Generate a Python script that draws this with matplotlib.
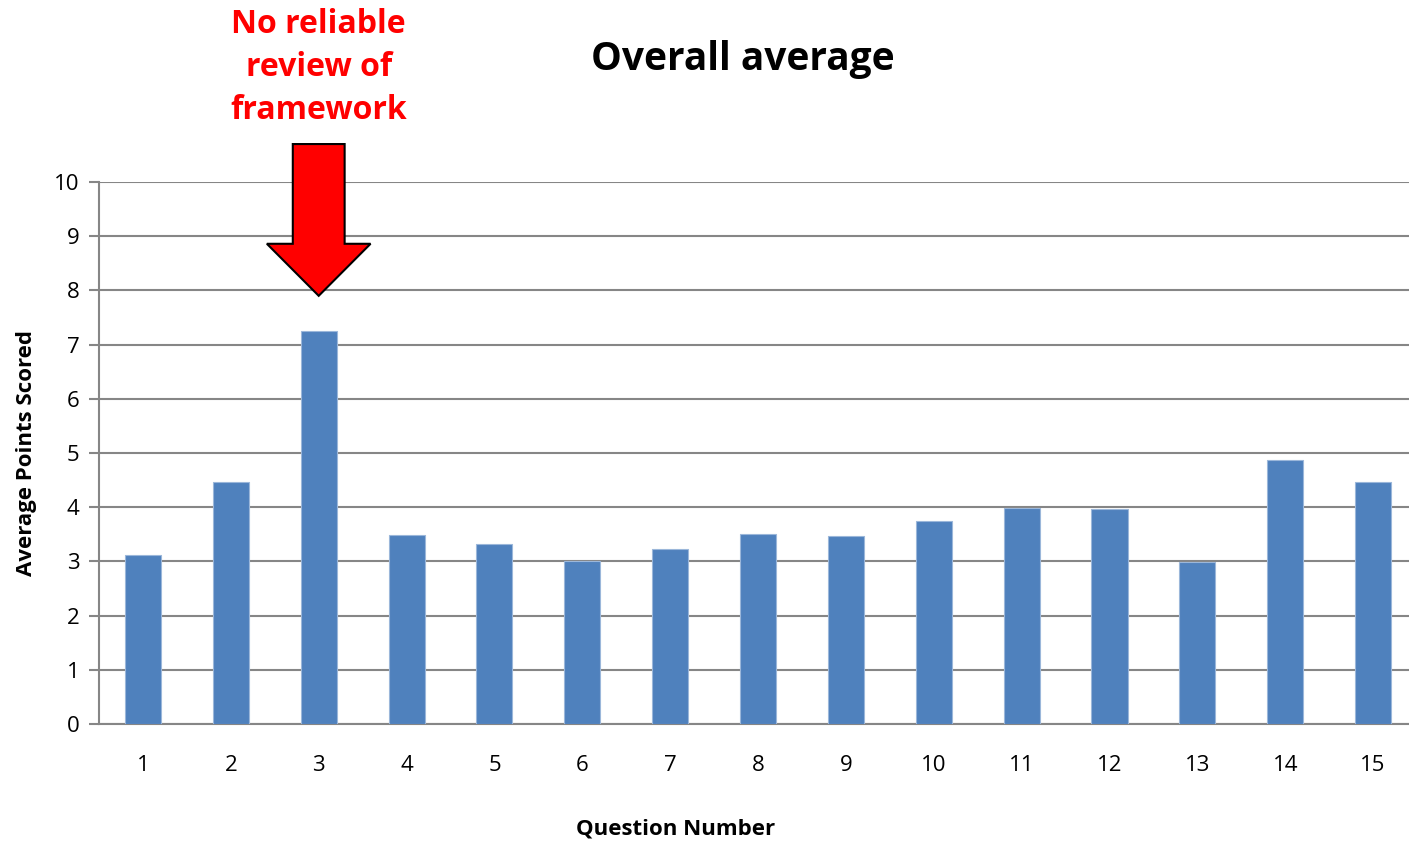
import matplotlib
matplotlib.use("Agg")
import matplotlib.pyplot as plt
from matplotlib.patches import Polygon

# Average points per question
questions = [str(i) for i in range(1, 16)]
avg_points = [3.12, 4.47, 7.25, 3.49, 3.32, 3.0, 3.23, 3.51, 3.46, 3.75,
              3.99, 3.96, 2.99, 4.88, 4.47]
y_ticks = list(range(0, 11))

flagged_question = 3
flag_text = "No reliable\nreview of\nframework"

plt.rcParams['font.family'] = ['Open Sans', 'DejaVu Sans']

bar_color = '#4F81BD'
grid_color = '#868686'

fig = plt.figure(figsize=(14.09, 8.41), dpi=100)
ax = fig.add_axes([0.0703, 0.1391, 0.9354, 0.6445])

x = list(range(1, len(questions) + 1))
ax.bar(x, avg_points, width=0.41, color=bar_color, edgecolor='#9BB7DA',
       linewidth=0.8, zorder=3)

ax.set_xlim(0.5, len(questions) + 0.5)
ax.set_ylim(0, 10)
ax.set_yticks(y_ticks)
ax.set_xticks(x)
ax.set_xticklabels(questions)
ax.yaxis.grid(True, color=grid_color, linewidth=1.5, zorder=0)
ax.set_axisbelow(True)

for side in ['top', 'right']:
    ax.spines[side].set_visible(False)
for side in ['left', 'bottom']:
    ax.spines[side].set_color(grid_color)
    ax.spines[side].set_linewidth(1.5)

ax.tick_params(axis='y', length=7, width=1.5, color=grid_color, pad=7,
               labelsize=16, labelcolor='black')
ax.tick_params(axis='x', length=0, pad=22, labelsize=16, labelcolor='black')

ax.set_ylabel('Average Points Scored', fontsize=16, fontweight='bold', labelpad=12)
ax.set_xlabel('Question Number', fontsize=16, fontweight='bold', va='center')
ax.xaxis.set_label_coords((676 - 99) / (1417 - 99), -0.194)

fig.text(0.527, 0.929, 'Overall average', fontsize=28, fontweight='bold',
         ha='center', va='center')

# block arrow pointing down at the flagged bar
cx = flagged_question
shaft, head = 0.295, 0.59
arrow = Polygon([(cx - shaft, 10.7), (cx + shaft, 10.7), (cx + shaft, 8.86),
                 (cx + head, 8.86), (cx, 7.9), (cx - head, 8.86),
                 (cx - shaft, 8.86)],
                closed=True, facecolor='#FF0000', edgecolor='black',
                linewidth=1.5, clip_on=False, zorder=5)
ax.add_patch(arrow)

ax.text(cx, 12.12, flag_text, color='#FF0000', fontsize=23, fontweight='bold',
        ha='center', va='center', linespacing=1.4, clip_on=False)

fig.savefig('out.png', dpi=100)
